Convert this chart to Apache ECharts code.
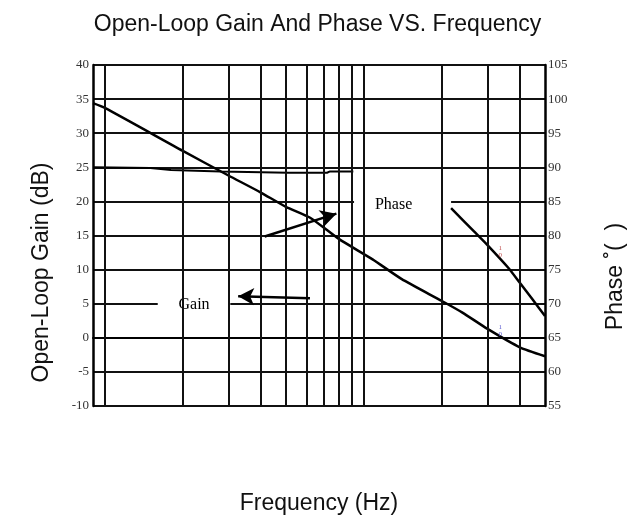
<!DOCTYPE html>
<html>
<head>
<meta charset="utf-8">
<script src="https://cdn.jsdelivr.net/npm/echarts@6/dist/echarts.min.js"></script>
<style>
  html, body { margin: 0; padding: 0; background: #fff; }
  #chart { width: 635px; height: 520px; }
</style>
</head>
<body>
<div id="chart"></div>
<script>
// frequencies where the vertical grid lines sit (log x axis)
const gridFreqs = [1, 2, 3, 4, 5, 6, 7, 8, 9, 10, 20, 30, 40]

// descending curve, left axis (dB)
const gainFreq = [0.9, 1, 2, 3, 4, 5, 6.2, 8, 10.8, 14, 20, 24, 30, 40, 50]
const gainDb = [34.4, 33.7, 27.4, 23.8, 21.3, 19.2, 17.6, 14.5, 11.5, 8.6, 5.4, 3.7, 1.3, -1.4, -2.7]

// flat curve, right axis (degrees), left part before the label box
const phaseFreqLow = [0.9, 1.5, 1.8, 2.8, 5.1, 7.2, 7.4, 9.1]
const phaseDegLow = [90.0, 89.9, 89.6, 89.4, 89.2, 89.2, 89.4, 89.4]
// right part after the label box
const phaseFreqHigh = [21.7, 26.6, 29.8, 36.0, 39.9, 44.8, 50]
const phaseDegHigh = [84.0, 80.6, 78.7, 75.3, 73.1, 70.6, 68.2]

// label boxes and arrows (frequency, value)
const phaseBox = [[9.16, 89.3], [21.7, 80.2]]
const gainBox = [[1.6, 9.6], [3.05, 0.2]]
const phaseArrow = [[4.14, 14.85], [7.83, 18.2]]
const gainArrow = [[6.19, 5.8], [3.27, 6.1]]

// tiny "1 over 0" marks left in the scan
const redMark = [33.6, 77.7]
const blueMark = [33.6, 1.1]

const toPairs = (xs, ys) => xs.map((x, i) => [x, ys[i]])

const chart = echarts.init(document.getElementById('chart'))

const sansFont = 'Liberation Sans'
const serifFont = 'Liberation Serif'

const tinyMark = (coord, color) => ({
  coord: coord,
  symbol: 'circle',
  symbolSize: 1,
  itemStyle: { color: 'rgba(0,0,0,0)' },
  label: {
    show: true,
    position: 'inside',
    formatter: '{n|1}\n{d|0}',
    rich: {
      n: { fontSize: 7, lineHeight: 7, color: color, fontFamily: serifFont, align: 'center' },
      d: { fontSize: 7, lineHeight: 7, color: color, fontFamily: serifFont, align: 'center' }
    }
  }
})

const option = {
  animation: false,
  backgroundColor: '#fff',
  title: {
    text: 'Open-Loop Gain And Phase VS. Frequency',
    left: 'center',
    top: 8,
    textStyle: { fontFamily: sansFont, fontSize: 23, fontWeight: 'normal', color: '#111' }
  },
  grid: { left: 93, right: 84, top: 65, bottom: 113 },
  xAxis: {
    type: 'log',
    min: 0.9,
    max: 50,
    name: 'Frequency (Hz)',
    nameLocation: 'middle',
    nameGap: 86,
    nameTextStyle: { fontFamily: sansFont, fontSize: 23, color: '#111' },
    axisLine: { show: true, lineStyle: { color: '#000', width: 2 } },
    axisTick: { show: false },
    axisLabel: { show: false },
    splitLine: { show: false }
  },
  yAxis: [
    {
      type: 'value',
      min: -10,
      max: 40,
      interval: 5,
      position: 'left',
      name: 'Open-Loop Gain (dB)',
      nameLocation: 'middle',
      nameGap: 40,
      nameTextStyle: { fontFamily: sansFont, fontSize: 23, color: '#111', padding: [0, 74, 0, 0] },
      axisLine: { show: true, lineStyle: { color: '#000', width: 2.5 } },
      axisTick: { show: false },
      axisLabel: { fontFamily: serifFont, fontSize: 13, color: '#333', margin: 4 },
      splitLine: { show: true, lineStyle: { color: '#111', width: 2 } }
    },
    {
      type: 'value',
      min: 55,
      max: 105,
      interval: 5,
      position: 'right',
      name: 'Phase \u02DA(  )',
      nameLocation: 'middle',
      nameGap: 59,
      nameTextStyle: { fontFamily: sansFont, fontSize: 23, color: '#111', padding: [0, 82, 0, 0] },
      axisLine: { show: true, lineStyle: { color: '#000', width: 2.5 } },
      axisTick: { show: false },
      axisLabel: { fontFamily: serifFont, fontSize: 13, color: '#333', margin: 3 },
      splitLine: { show: false }
    }
  ],
  series: [
    {
      // vertical grid lines
      type: 'line',
      z: 1,
      data: [],
      markLine: {
        silent: true,
        symbol: 'none',
        label: { show: false },
        lineStyle: { color: '#111', width: 2, type: 'solid' },
        data: gridFreqs.map(f => ({ xAxis: f }))
      }
    },
    {
      // white label boxes
      type: 'line',
      z: 2,
      data: [],
      markArea: {
        silent: true,
        itemStyle: { color: '#fff' },
        label: { show: true, position: 'inside', fontFamily: serifFont, fontSize: 16, color: '#000' },
        data: [
          [{ name: 'Gain', coord: gainBox[0] }, { coord: gainBox[1] }]
        ]
      }
    },
    {
      type: 'line',
      z: 2,
      yAxisIndex: 1,
      data: [],
      markArea: {
        silent: true,
        itemStyle: { color: '#fff' },
        label: { show: true, position: 'inside', offset: [-9, 2], fontFamily: serifFont, fontSize: 16, color: '#000' },
        data: [
          [{ name: 'Phase', coord: phaseBox[0] }, { coord: phaseBox[1] }]
        ]
      }
    },
    {
      name: 'Gain',
      type: 'line',
      z: 3,
      showSymbol: false,
      smooth: 0.2,
      lineStyle: { color: '#000', width: 2.5 },
      data: toPairs(gainFreq, gainDb),
      markLine: {
        silent: true,
        symbol: ['none', 'arrow'],
        symbolSize: [13, 16],
        label: { show: false },
        lineStyle: { color: '#000', width: 2.5, type: 'solid' },
        data: [
          [{ coord: phaseArrow[0] }, { coord: phaseArrow[1] }],
          [{ coord: gainArrow[0] }, { coord: gainArrow[1] }]
        ]
      },
      markPoint: {
        silent: true,
        data: [tinyMark(blueMark, '#5a5ad0')]
      }
    },
    {
      name: 'Phase',
      type: 'line',
      z: 3,
      yAxisIndex: 1,
      showSymbol: false,
      lineStyle: { color: '#000', width: 2 },
      data: toPairs(phaseFreqLow, phaseDegLow)
    },
    {
      name: 'Phase',
      type: 'line',
      z: 3,
      yAxisIndex: 1,
      showSymbol: false,
      smooth: 0.2,
      lineStyle: { color: '#000', width: 2.5 },
      data: toPairs(phaseFreqHigh, phaseDegHigh),
      markPoint: {
        silent: true,
        data: [tinyMark(redMark, '#c05050')]
      }
    }
  ]
}

chart.setOption(option)
</script>
</body>
</html>
